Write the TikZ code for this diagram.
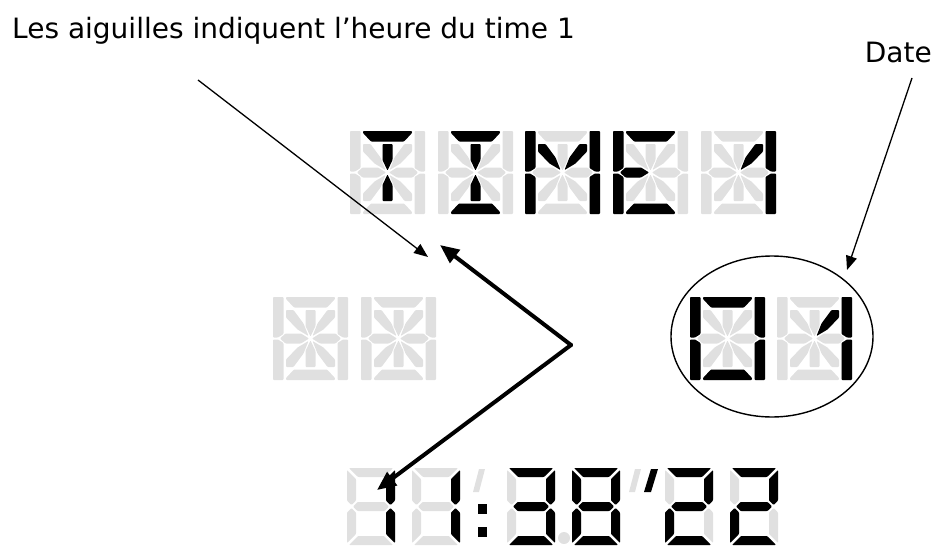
\documentclass[tikz,border=0pt]{standalone}
\usepackage{fontspec}
\setmainfont{DejaVu Sans}
\usetikzlibrary{arrows.meta,shapes.geometric}
\definecolor{segoff}{RGB}{224,224,224}
% ---- 14-segment cell, local box 75 x 83 (y downwards) ----
\expandafter\def\csname SEGa\endcsname{\fill (13,0) -- (62,0) -- (62,2) -- (54,10.5) -- (21,10.5) -- (13,2) -- cycle;}
\expandafter\def\csname SEGd\endcsname{\fill (13,83) -- (62,83) -- (62,81) -- (54,72.5) -- (21,72.5) -- (13,81) -- cycle;}
\expandafter\def\csname SEGf\endcsname{\fill (0,0) -- (10.5,0) -- (10.5,37) -- (5,40.5) -- (0,40.5) -- cycle;}
\expandafter\def\csname SEGe\endcsname{\fill (0,42.5) -- (5,42.5) -- (10.5,46) -- (10.5,83) -- (0,83) -- cycle;}
\expandafter\def\csname SEGb\endcsname{\fill (75,0) -- (64.5,0) -- (64.5,37) -- (70,40.5) -- (75,40.5) -- cycle;}
\expandafter\def\csname SEGc\endcsname{\fill (75,42.5) -- (70,42.5) -- (64.5,46) -- (64.5,83) -- (75,83) -- cycle;}
\expandafter\def\csname SEGg\endcsname{\fill (7,41.5) -- (12.5,36.5) -- (28,36.5) -- (36,41.5) -- (28,46.5) -- (12.5,46.5) -- cycle;}
\expandafter\def\csname SEGn\endcsname{\fill (68,41.5) -- (62.5,36.5) -- (47,36.5) -- (39,41.5) -- (47,46.5) -- (62.5,46.5) -- cycle;}
\expandafter\def\csname SEGi\endcsname{\fill (32.5,13) -- (42.5,13) -- (42.5,29) -- (37.5,39.5) -- (32.5,29) -- cycle;}
\expandafter\def\csname SEGl\endcsname{\fill (32.5,70) -- (42.5,70) -- (42.5,54) -- (37.5,43.5) -- (32.5,54) -- cycle;}
\expandafter\def\csname SEGh\endcsname{\fill (13,13) -- (20.5,13) -- (30.5,26.5) -- (35.5,39) -- (24.5,32.5) -- (13,20.5) -- cycle;}
\expandafter\def\csname SEGj\endcsname{\fill (62,13) -- (54.5,13) -- (44.5,26.5) -- (39.5,39) -- (50.5,32.5) -- (62,20.5) -- cycle;}
\expandafter\def\csname SEGk\endcsname{\fill (13,70) -- (20.5,70) -- (30.5,56.5) -- (35.5,44) -- (24.5,50.5) -- (13,62.5) -- cycle;}
\expandafter\def\csname SEGm\endcsname{\fill (62,70) -- (54.5,70) -- (44.5,56.5) -- (39.5,44) -- (50.5,50.5) -- (62,62.5) -- cycle;}
\newcommand\fourteen[3]{%
  \begin{scope}[shift={(#1,#2)},rounded corners=0.8pt]
    \begin{scope}[fill=segoff]
      \foreach \s in {a,b,c,d,e,f,g,n,h,i,j,k,l,m}{\csname SEG\s\endcsname}
    \end{scope}
    \begin{scope}[fill=black]
      \foreach \s in {#3}{\csname SEG\s\endcsname}
    \end{scope}
  \end{scope}}
% ---- 7-segment cell, local box 48 x 77 ----
\expandafter\def\csname SSa\endcsname{\fill (2,0) -- (46,0) -- (37,9) -- (11,9) -- cycle;}
\expandafter\def\csname SSd\endcsname{\fill (2,77) -- (46,77) -- (37,68) -- (11,68) -- cycle;}
\expandafter\def\csname SSf\endcsname{\fill (0,2) -- (9,11) -- (9,32.5) -- (4.5,37) -- (0,32.5) -- cycle;}
\expandafter\def\csname SSe\endcsname{\fill (0,44.5) -- (4.5,40) -- (9,44.5) -- (9,66) -- (0,75) -- cycle;}
\expandafter\def\csname SSb\endcsname{\fill (48,2) -- (39,11) -- (39,32.5) -- (43.5,37) -- (48,32.5) -- cycle;}
\expandafter\def\csname SSc\endcsname{\fill (48,44.5) -- (43.5,40) -- (39,44.5) -- (39,66) -- (48,75) -- cycle;}
\expandafter\def\csname SSg\endcsname{\fill (6,38.5) -- (10.5,34) -- (37.5,34) -- (42,38.5) -- (37.5,43) -- (10.5,43) -- cycle;}
\newcommand\seven[3]{%
  \begin{scope}[shift={(#1,#2)},rounded corners=0.8pt]
    \begin{scope}[fill=segoff]
      \foreach \s in {a,b,c,d,e,f,g}{\csname SS\s\endcsname}
    \end{scope}
    \begin{scope}[fill=black]
      \foreach \s in {#3}{\csname SS\s\endcsname}
    \end{scope}
  \end{scope}}
\tikzset{
  label text/.style={inner sep=0pt,font=\fontsize{28}{34}\selectfont},
  thin arrow/.style={line width=1.3pt,-{Triangle[length=14pt,width=11pt]}},
  hand/.style={line width=4pt,line cap=round,-{Triangle[length=19pt,width=16pt]}},
}
\begin{document}
\begin{tikzpicture}[x=1pt,y=-1pt]
\useasboundingbox (0,0) rectangle (937,546);
% TIME 1
\fourteen{350}{131}{a,i,l}
\fourteen{438}{131}{a,d,i,l}
\fourteen{525}{131}{b,c,e,f,h,j}
\fourteen{613}{131}{a,d,e,f,g}
\fourteen{701}{131}{b,c,j}
% middle row
\fourteen{273}{297}{none}
\fourteen{361}{297}{none}
\fourteen{690}{297}{a,b,c,d,e,f}
\fourteen{777}{297}{b,c,j}
% bottom row 11:38'22
\seven{347}{468}{b,c}
\seven{412}{468}{b,c}
\fill[segoff] (479,469) -- (485,469) -- (479,492) -- (473,492) -- cycle;
\fill[black] (478,504) rectangle (487,514);
\fill[black] (478,527) rectangle (487,537);
\seven{507}{468}{a,b,c,d,g}
\fill[segoff] (564,538) circle (6);
\seven{572}{468}{a,b,c,d,e,f,g}
\fill[segoff] (635,469) -- (641,469) -- (635,492) -- (629,492) -- cycle;
\fill[black] (651,469) -- (658,469) -- (651,492) -- (644,492) -- cycle;
\seven{665}{468}{a,b,d,e,g}
\seven{730}{468}{a,b,d,e,g}
% labels
\node[label text,anchor=base west] (lbl) at (12,38) {Les aiguilles indiquent l’heure du time 1};
\node[label text,anchor=base east] (date) at (932,62) {Date};
% ellipse around the date
\node[draw,ellipse,line width=1.4pt,minimum width=202pt,minimum height=161pt,inner sep=0pt] (dateell) at (772,336.5) {};
% arrows
\coordinate (lblfoot) at (198,80);
\coordinate (lbltip) at (428,257);
\draw[thin arrow] (lblfoot) -- (lbltip);
\coordinate (datefoot) at (912,78);
\coordinate (datetip) at (847,270);
\draw[thin arrow] (datefoot) -- (datetip);
% hands
\coordinate (pivot) at (571,345);
\coordinate (hourtip) at (440,245);
\coordinate (mintip) at (377,490);
\draw[hand] (pivot) -- (hourtip);
\draw[hand] (pivot) -- (mintip);
\end{tikzpicture}
\end{document}
